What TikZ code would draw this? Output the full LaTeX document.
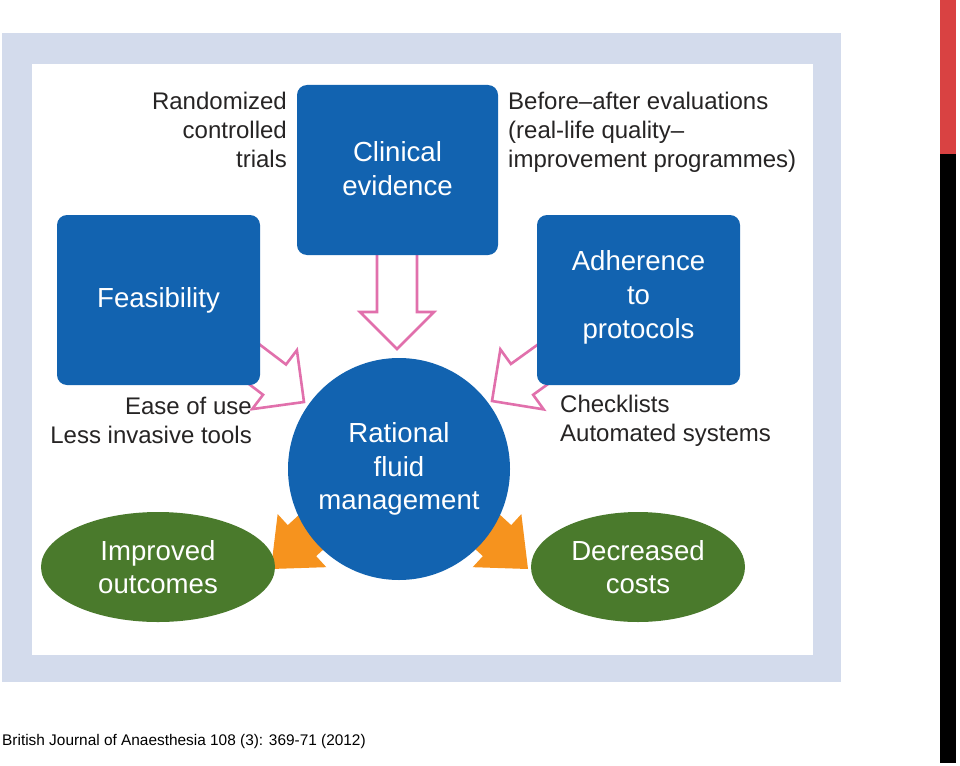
\documentclass[tikz,border=0pt]{standalone}
\usepackage{fontspec}
\setmainfont{Liberation Sans}
\usetikzlibrary{shapes.geometric}
\definecolor{boxblue}{RGB}{18,99,176}
\definecolor{ovgreen}{RGB}{74,122,44}
\definecolor{arrorange}{RGB}{246,147,30}
\definecolor{arrpink}{RGB}{225,112,172}
\definecolor{framebl}{RGB}{211,219,236}
\definecolor{barred}{RGB}{217,66,66}
\definecolor{lbltext}{RGB}{38,36,36}
\begin{document}
\begin{tikzpicture}[x=1pt,y=-1pt,
  bluebox/.style={fill=boxblue, rounded corners=10pt, text=white, align=center,
    font=\fontsize{27.6}{34}\selectfont, inner sep=0pt},
  boxtext/.style={text=white, align=center, inner sep=0pt},
  greenov/.style={ellipse, fill=ovgreen, text=white, align=center,
    font=\fontsize{27.6}{33}\selectfont, inner sep=0pt},
  bigcirc/.style={circle, fill=boxblue, inner sep=0pt, minimum size=222pt},
  lbl/.style={text=lbltext, font=\fontsize{24}{29}\selectfont, inner sep=0pt},
  pinkarr/.style={draw=arrpink, line width=2.6pt, fill=white, line join=miter},
  orangearr/.style={fill=arrorange}]
\useasboundingbox (0,0) rectangle (960,765);
% frame
\fill[framebl] (2,33) rectangle (841,682);
\fill[white] (32,64) rectangle (813,655);
% side bar
\fill[barred] (940,0) rectangle (956,154);
\fill[black] (940,154) rectangle (956,763);

% orange arrows (under circle and ellipses)
\begin{scope}[shift={(271,569)}, rotate=-137.5]
  \fill[orangearr] (0,0) -- (-42,36) -- (-42,21) -- (-110,21) -- (-110,-21) -- (-42,-21) -- (-42,-36) -- cycle;
\end{scope}
\begin{scope}[shift={(528,569)}, rotate=-42.5]
  \fill[orangearr] (0,0) -- (-42,36) -- (-42,21) -- (-110,21) -- (-110,-21) -- (-42,-21) -- (-42,-36) -- cycle;
\end{scope}

% pink arrows (under boxes)
\begin{scope}[shift={(397,349)}, rotate=-90]
  \draw[pinkarr] (0,0) -- (-37,37) -- (-37,20) -- (-110,20) -- (-110,-20) -- (-37,-20) -- (-37,-37) -- cycle;
\end{scope}
\begin{scope}[shift={(304,402)}, rotate=-37.2]
  \draw[pinkarr] (0,0) -- (-37,37) -- (-37,19) -- (-110,19) -- (-110,-19) -- (-37,-19) -- (-37,-37) -- cycle;
\end{scope}
\begin{scope}[shift={(492,401)}, rotate=-144.2]
  \draw[pinkarr] (0,0) -- (-37,37) -- (-37,19) -- (-110,19) -- (-110,-19) -- (-37,-19) -- (-37,-37) -- cycle;
\end{scope}

% boxes
\node[bluebox, minimum width=201pt, minimum height=170pt] (clin) at (397.5,170) {};
\node[boxtext, font=\fontsize{27.6}{34}\selectfont] (clintxt) at (clin.center) [yshift=1.5pt] {Clinical\\evidence};
\node[bluebox, minimum width=203pt, minimum height=170pt] (feas) at (158.5,300) {Feasibility};
\node[bluebox, minimum width=203pt, minimum height=170pt] (adh) at (638.5,300) {};
\node[boxtext, font=\fontsize{27.6}{34}\selectfont] (adhtxt) at (adh.center) [yshift=3pt] {Adherence\\to\\protocols};
\node[bigcirc] (rfm) at (399,469) {};
\node[boxtext, font=\fontsize{27.6}{33.5}\selectfont] (rfmtxt) at (rfm.center) {Rational\\fluid\\management};
\node[greenov, minimum width=234pt, minimum height=110pt] (imp) at (158,567) {Improved\\outcomes};
\node[greenov, minimum width=214pt, minimum height=110pt] (dec) at (638,567) {Decreased\\costs};

% labels
\node[lbl, anchor=east, align=right] (rct) at (287,130) {Randomized\\controlled\\trials};
\node[lbl, anchor=west, align=left] (baf) at (508,132) {Before–after evaluations\\(real-life quality–\\improvement programmes)};
\node[lbl, anchor=east, align=right] (ease) at (252,420) {Ease of use\\Less invasive tools};
\node[lbl, anchor=west, align=left] (chk) at (560,421) {Checklists\\Automated systems};

% footer
\node[anchor=base west, inner sep=0pt, font=\fontsize{15.4}{18}\selectfont] (cite) at (2,745) {British Journal of Anaesthesia 108 (3): 369-71 (2012)};
\end{tikzpicture}
\end{document}
